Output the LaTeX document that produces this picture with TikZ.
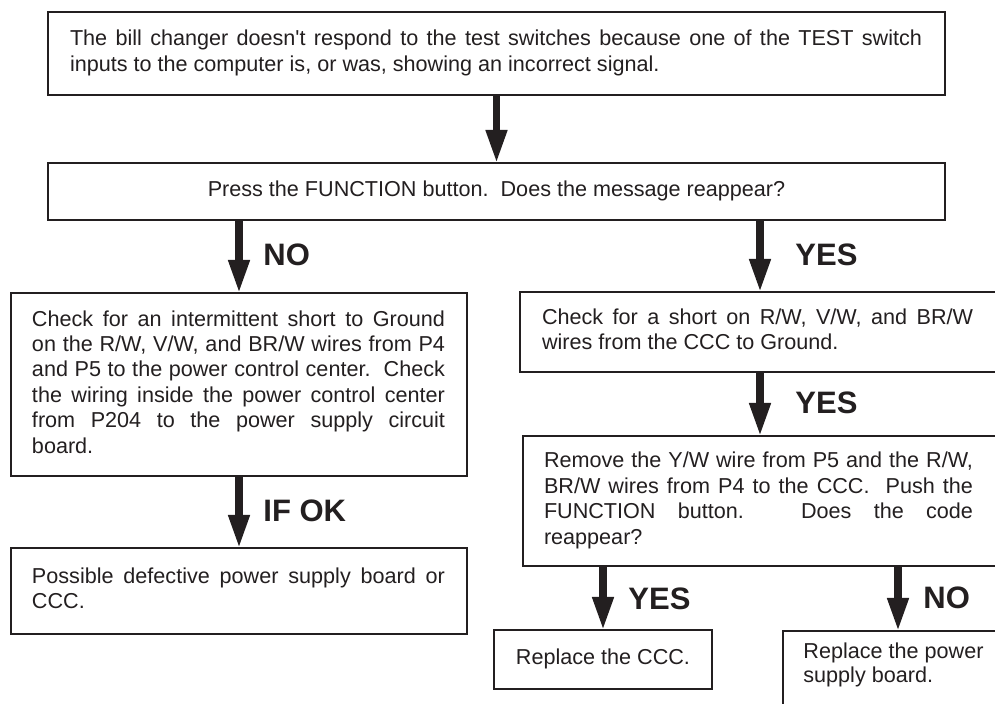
\documentclass[tikz,border=0pt]{standalone}
\usepackage{fontspec}
\setmainfont{Liberation Sans}
\usetikzlibrary{arrows.meta}
\definecolor{ink}{HTML}{231F20}
\newcommand\jl[2]{{\spaceskip=0pt\xspaceskip=0pt\makebox[#1][s]{\strut#2}}}
\newcommand\nsp{\spaceskip=0pt\xspaceskip=0pt\relax}
\newcommand\nat[1]{{\spaceskip=0pt\xspaceskip=0pt\mbox{\strut#1}}}
\begin{document}
\begin{tikzpicture}[x=0.5pt,y=-0.5pt,
  box/.style={draw=ink, line width=1pt, anchor=north west, outer sep=0pt,
    inner xsep=0pt, inner ysep=0pt, text=ink,
    font=\fontsize{10.8pt}{12.7pt}\selectfont, align=left},
  flow/.style={draw=ink, line width=3.6pt, -{Triangle[width=10pt,length=16.5pt]}},
  lab/.style={anchor=west, inner sep=0pt, text=ink,
    font=\fontsize{15.5pt}{18pt}\selectfont\bfseries}]
\useasboundingbox (0,0) rectangle (995,704);
\clip (0,0) rectangle (995,704);
\fill[white] (0,0) rectangle (995,704);

\node[box, minimum width=448.5pt, minimum height=41.5pt, text width=426.5pt] (b1) at (48,12)
  {\jl{426pt}{The bill changer doesn\textquotesingle t respond to the test switches because one of the TEST switch}\\
   \nat{inputs to the computer is, or was, showing an incorrect signal.}};

\node[box, minimum width=448.5pt, minimum height=28.5pt, text width=426.5pt, align=center] (b2) at (48,163)
  {\nat{Press the FUNCTION button.\ \ Does the message reappear?}};

\node[box, minimum width=228pt, minimum height=91.5pt, text width=207pt] (b3) at (11,293)
  {\jl{206.5pt}{Check for an intermittent short to Ground}\\
   \jl{206.5pt}{on the R/W, V/W, and BR/W wires from P4}\\
   \jl{206.5pt}{and P5 to the power control center.\ \ Check}\\
   \jl{206.5pt}{the wiring inside the power control center}\\
   \jl{206.5pt}{from P204 to the power supply circuit}\\
   \nat{board.}};

\node[box, minimum width=228pt, minimum height=43pt, text width=207pt] (b4) at (11,548)
  {\jl{206.5pt}{Possible defective power supply board or}\\
   \nat{CCC.}};

\node[box, minimum width=240pt, minimum height=40pt, text width=218pt] (b5) at (520,292)
  {\jl{215.5pt}{Check for a short on R/W, V/W, and BR/W}\\
   \nat{wires from the CCC to Ground.}};

\node[box, minimum width=238.5pt, minimum height=65pt, text width=217.5pt] (b6) at (523,436)
  {\jl{214.5pt}{Remove the Y/W wire from P5 and the R/W,}\\
   \jl{214.5pt}{BR/W wires from P4 to the CCC.\ \ Push the}\\
   \jl{214.5pt}{FUNCTION button. Does the code}\\
   \nat{reappear?}};

\node[box, minimum width=109pt, minimum height=29.5pt, text width=95pt, align=center] (b7) at (494,630)
  {\nat{Replace the CCC.}};

\node[box, minimum width=115pt, minimum height=50pt] (b8) at (783,631) {};
\node[anchor=base west, inner sep=0pt, text=ink, text width=100pt, align=left,
  font=\fontsize{10.8pt}{12.2pt}\selectfont] (b8t) at (803,658)
  {\nat{Replace the power}\\\nat{supply board.}};

\draw[flow] (b1.south) -- (b2.north);
\draw[flow] (b2.south -| b3.north) -- (b3.north);
\draw[flow] (b2.south -| b5.north) -- (b5.north);
\draw[flow] (b3.south) -- (b4.north);
\draw[flow] (b5.south) -- (b5.south |- b6.north);
\draw[flow] (b6.south -| b7.north) -- (b7.north);
\draw[flow] (b6.south -| b8.north) -- (b8.north);

\node[lab] (l1) at (263,255) {NO};
\node[lab] (l2) at (795,255) {YES};
\node[lab] (l3) at (795,403) {YES};
\node[lab] (l4) at (263,511) {IF OK};
\node[lab] (l5) at (628,599) {YES};
\node[lab] (l6) at (923,598) {NO};
\end{tikzpicture}
\end{document}
